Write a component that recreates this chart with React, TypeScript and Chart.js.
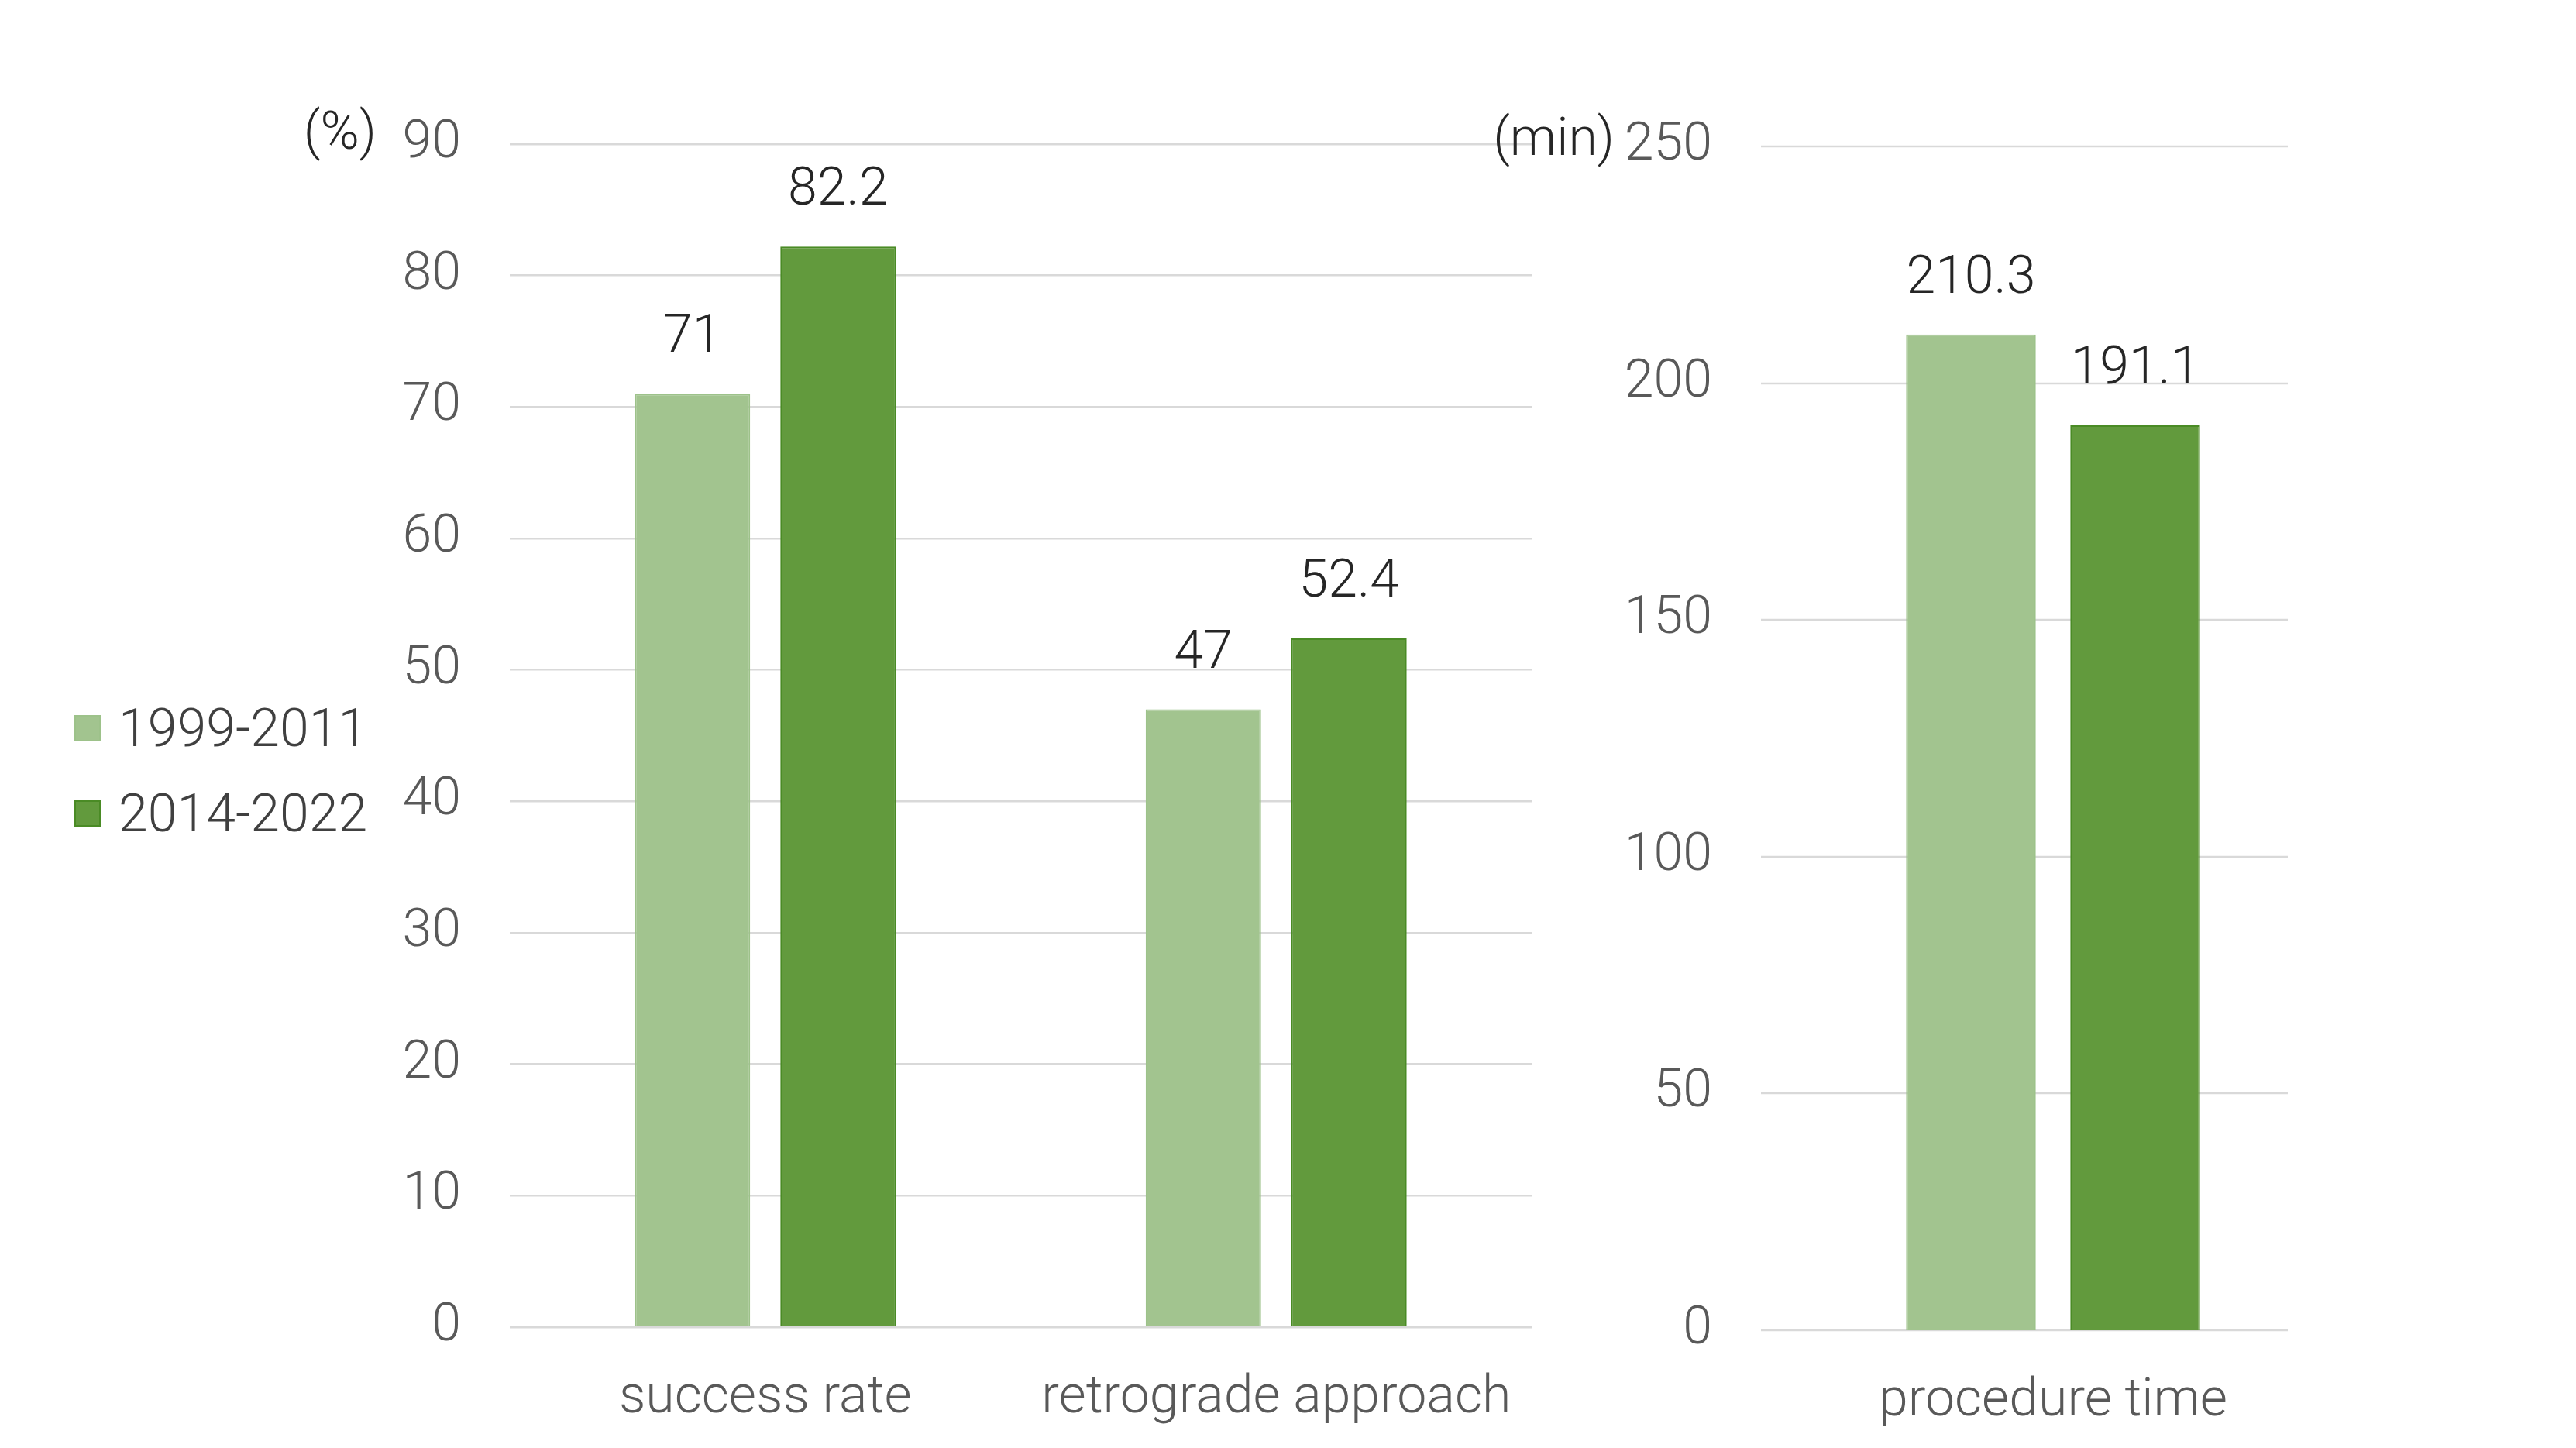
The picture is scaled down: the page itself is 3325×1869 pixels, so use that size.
import React, { useEffect, useRef } from "react";
import { Chart, registerables } from "chart.js";

Chart.register(...registerables);

// ---- data ----
const periods = ["1999-2011", "2014-2022"];
const rateCategories = ["success rate", "retrograde approach"];
const rate1999 = [71, 47];
const rate2014 = [82.2, 52.4];
const rateTickRange = [0, 90, 10];
const rateUnit = "(%)";
const timeCategories = ["procedure time"];
const time1999 = [210.3];
const time2014 = [191.1];
const timeTickRange = [0, 250, 50];
const timeUnit = "(min)";

// ---- style ----
const FONT = "Roboto, 'Noto Sans', 'DejaVu Sans', sans-serif";
const FONT_SIZE = 68;
const FONT_WEIGHT = "300";
const fillColors = ["#A2C48F", "#629A3D"];
const borderColors = ["#9DC28A", "#4A8B25"];
const GRID = "#D9D9D9";
const TICK_COLOR = "#595959";
const LABEL_COLOR = "#262626";

const valueLabels = {
  id: "valueLabels",
  afterDatasetsDraw(chart: any) {
    const ctx = chart.ctx;
    ctx.save();
    ctx.font = `${FONT_WEIGHT} ${FONT_SIZE}px ${FONT}`;
    ctx.fillStyle = LABEL_COLOR;
    ctx.textAlign = "center";
    ctx.textBaseline = "alphabetic";
    chart.data.datasets.forEach((ds: any, i: number) => {
      chart.getDatasetMeta(i).data.forEach((el: any, j: number) => {
        ctx.fillText(String(ds.data[j]), el.x, el.y - 54);
      });
    });
    ctx.restore();
  },
};

const makeShortGrid = (length: number) => ({
  id: "shortGrid",
  beforeDatasetsDraw(chart: any) {
    const ctx = chart.ctx;
    const y = chart.scales.y;
    const left = chart.chartArea.left;
    ctx.save();
    ctx.strokeStyle = GRID;
    ctx.lineWidth = 2.5;
    y.ticks.forEach((t: any) => {
      const py = Math.round(y.getPixelForValue(t.value));
      ctx.beginPath();
      ctx.moveTo(left, py);
      ctx.lineTo(left + length, py);
      ctx.stroke();
    });
    ctx.restore();
  },
});

function makeDatasets(a: number[], b: number[], catPct: number, barPct: number) {
  return [a, b].map((d, i) => ({
    label: periods[i],
    data: d,
    backgroundColor: fillColors[i],
    borderColor: borderColors[i],
    borderWidth: 2,
    categoryPercentage: catPct,
    barPercentage: barPct,
  }));
}

const tickFont = { family: FONT, size: FONT_SIZE, weight: FONT_WEIGHT as any };

function BarPanel(props: {
  left: number;
  width: number;
  height: number;
  config: any;
}) {
  const ref = useRef<HTMLCanvasElement | null>(null);
  useEffect(() => {
    if (!ref.current) return;
    const chart = new Chart(ref.current, props.config);
    return () => chart.destroy();
  }, []);
  return (
    <canvas
      ref={ref}
      width={props.width}
      height={props.height}
      style={{
        position: "absolute",
        left: props.left,
        top: 0,
        width: props.width,
        height: props.height,
      }}
    />
  );
}

const H = 1869;

// left panel geometry
const L_X0 = 0;
const L_W = 2100;
const L_AREA = { left: 658, right: 1977, top: 186, bottom: 1713 };

const leftConfig = {
  type: "bar",
  data: {
    labels: rateCategories,
    datasets: makeDatasets(rate1999, rate2014, 0.57, 0.7926),
  },
  options: {
    animation: false,
    responsive: false,
    maintainAspectRatio: false,
    devicePixelRatio: 1,
    layout: {
      padding: { left: 0, top: L_AREA.top, right: L_W - (L_AREA.right - L_X0), bottom: 0 },
    },
    plugins: { legend: { display: false }, tooltip: { enabled: false } },
    scales: {
      x: {
        grid: { display: false, drawTicks: false },
        border: { display: false },
        ticks: { font: tickFont, color: TICK_COLOR, padding: 52, maxRotation: 0, autoSkip: false },
        afterFit: (s: any) => {
          s.height = H - L_AREA.bottom;
        },
      },
      y: {
        min: rateTickRange[0],
        max: rateTickRange[1],
        ticks: { stepSize: rateTickRange[2], font: tickFont, color: TICK_COLOR, padding: 63 },
        grid: { color: GRID, lineWidth: 2.5, drawTicks: false },
        border: { display: false },
        afterFit: (s: any) => {
          s.width = L_AREA.left - L_X0;
        },
      },
    },
  },
  plugins: [valueLabels],
};

// right panel geometry
const R_X0 = 1850;
const R_W = 1475;
const R_AREA = { left: 2273, right: 3027, top: 189, bottom: 1717 };
const R_GRID_LEN = 680;

const rightConfig = {
  type: "bar",
  data: {
    labels: timeCategories,
    datasets: makeDatasets(time1999, time2014, 0.5623, 0.79),
  },
  options: {
    animation: false,
    responsive: false,
    maintainAspectRatio: false,
    devicePixelRatio: 1,
    layout: {
      padding: { left: 0, top: R_AREA.top, right: R_W - (R_AREA.right - R_X0), bottom: 0 },
    },
    plugins: { legend: { display: false }, tooltip: { enabled: false } },
    scales: {
      x: {
        grid: { display: false, drawTicks: false },
        border: { display: false },
        ticks: { font: tickFont, color: TICK_COLOR, padding: 52, maxRotation: 0, autoSkip: false },
        afterFit: (s: any) => {
          s.height = H - R_AREA.bottom;
        },
      },
      y: {
        min: timeTickRange[0],
        max: timeTickRange[1],
        ticks: { stepSize: timeTickRange[2], font: tickFont, color: TICK_COLOR, padding: 63 },
        grid: { display: false, drawTicks: false },
        border: { display: false },
        afterFit: (s: any) => {
          s.width = R_AREA.left - R_X0;
        },
      },
    },
  },
  plugins: [makeShortGrid(R_GRID_LEN), valueLabels],
};

const textStyle: React.CSSProperties = {
  position: "absolute",
  fontFamily: FONT,
  fontSize: FONT_SIZE,
  fontWeight: 300,
  lineHeight: "80px",
  height: 80,
  whiteSpace: "nowrap",
};

export default function App() {
  return (
    <div
      style={{
        position: "absolute",
        left: 0,
        top: 0,
        width: 3325,
        height: H,
        overflow: "hidden",
        background: "#ffffff",
      }}
    >
      <BarPanel left={L_X0} width={L_W} height={H} config={leftConfig} />
      <BarPanel left={R_X0} width={R_W} height={H} config={rightConfig} />
      <div style={{ ...textStyle, left: 0, width: 486, top: 169 - 40, textAlign: "right", color: LABEL_COLOR }}>
        {rateUnit}
      </div>
      <div style={{ ...textStyle, left: 1700, width: 384, top: 177 - 40, textAlign: "right", color: LABEL_COLOR }}>
        {timeUnit}
      </div>
      {periods.map((p, i) => (
        <div key={p} style={{ position: "absolute", left: 96, top: [940, 1050][i] - 40, height: 80 }}>
          <div
            style={{
              position: "absolute",
              left: 0,
              top: 40 - 17,
              width: 34,
              height: 34,
              boxSizing: "border-box",
              background: fillColors[i],
              border: `2px solid ${borderColors[i]}`,
            }}
          />
          <div style={{ ...textStyle, left: 57, top: 0, color: "#404040" }}>{p}</div>
        </div>
      ))}
    </div>
  );
}
